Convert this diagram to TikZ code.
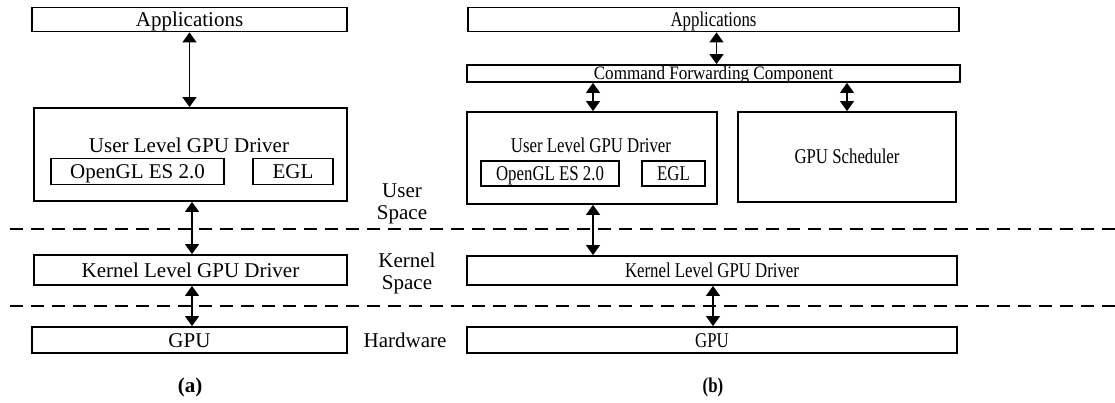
\documentclass[tikz,border=0pt]{standalone}
\usepackage{fontspec}
\setmainfont{Liberation Serif}
\usetikzlibrary{arrows.meta}
% narrower lettering used in the right-hand stack
\newcommand{\cond}[1]{\scalebox{0.8}[1]{#1}}
\tikzset{
  box/.style={draw, line width=1.8pt, inner sep=0pt, align=center,
    text height=14pt, text depth=0pt},
  txt/.style={inner sep=0pt, align=center, text height=14pt, text depth=0pt},
  twoline/.style={inner sep=0pt, align=center},
  link/.style={line width=1.2pt,
    {Triangle[width=14pt,length=10pt]}-{Triangle[width=14pt,length=10pt]}},
  divider/.style={line width=2pt, dash pattern=on 13pt off 8pt},
}
\begin{document}
\begin{tikzpicture}[x=1pt, y=-1pt, font=\fontsize{21}{22}\selectfont]
\useasboundingbox (0,0) rectangle (1115,403);

% ---- (a) native stack ----
\node[box, minimum width=315pt, minimum height=24pt] (appA) at (189.5,19.5) {Applications};
\node[box, minimum width=313pt, minimum height=93pt] (userA) at (190.5,154.5) {};
\node[txt] (userAt) at (189,145.5) {User Level GPU Driver};
\node[box, minimum width=173pt, minimum height=26pt] (oglA) at (137.5,171.5) {OpenGL ES 2.0};
\node[box, minimum width=80pt, minimum height=26pt] (eglA) at (293,171.5) {EGL};
\node[box, minimum width=313pt, minimum height=30pt] (kernA) at (190.5,270) {Kernel Level GPU Driver};
\node[box, minimum width=315pt, minimum height=26pt] (gpuA) at (189.5,340) {GPU};
\node[txt, font=\fontsize{21}{22}\selectfont\bfseries] (capA) at (190,385) {(a)};

\draw[link] (appA.south) -- (appA.south |- userA.north);
\draw[link] ([xshift=1.5pt]userA.south) -- ([xshift=1.5pt]userA.south |- kernA.north);
\draw[link] ([xshift=1.5pt]kernA.south) -- ([xshift=1.5pt]kernA.south |- gpuA.north);

% ---- layer labels ----
\node[twoline] (lblUser) at (402,203.5) {User\\Space};
\node[twoline] (lblKernel) at (407,273.5) {Kernel\\Space};
\node[txt] (lblHw) at (405,340) {Hardware};

\coordinate (d1l) at (10,229.5);
\coordinate (d1r) at (1115,229.5);
\coordinate (d2l) at (10,305.5);
\coordinate (d2r) at (1115,305.5);
\draw[divider] (d1l) -- (d1r);
\draw[divider] (d2l) -- (d2r);

% ---- (b) forwarded stack ----
\node[box, minimum width=491pt, minimum height=24pt] (appB) at (713.5,19.5) {\cond{Applications}};
\node[box, minimum width=493pt, minimum height=17pt, text height=12.6pt,
      font=\fontsize{19}{20}\selectfont] (cfc) at (713.5,73.5)
      {\scalebox{0.9}[1]{Command Forwarding Component}};
\node[box, minimum width=250pt, minimum height=92pt] (userB) at (592,158) {};
\node[txt] (userBt) at (591,146) {\cond{User Level GPU Driver}};
\node[box, minimum width=138pt, minimum height=25pt] (oglB) at (550,173.5) {\cond{OpenGL ES 2.0}};
\node[box, minimum width=63pt, minimum height=25pt] (eglB) at (673.5,173.5) {\cond{EGL}};
\node[box, minimum width=218pt, minimum height=90pt] (sched) at (847,157) {\cond{GPU Scheduler}};
\node[box, minimum width=490pt, minimum height=29pt] (kernB) at (712,270.5) {\cond{Kernel Level GPU Driver}};
\node[box, minimum width=490pt, minimum height=26pt] (gpuB) at (712,340) {\cond{GPU}};
\node[txt, font=\fontsize{21}{22}\selectfont\bfseries] (capB) at (713,385) {\cond{(b)}};

\draw[link] ([xshift=3pt]appB.south) -- ([xshift=3pt]appB.south |- cfc.north);
\draw[link] ([xshift=1pt]userB.north |- cfc.south) -- ([xshift=1pt]userB.north);
\draw[link] (sched.north |- cfc.south) -- (sched.north);
\draw[link] ([xshift=1pt]userB.south) -- ([xshift=1pt]userB.south |- kernB.north);
\draw[link] ([xshift=1pt]kernB.south) -- ([xshift=1pt]kernB.south |- gpuB.north);
\end{tikzpicture}
\end{document}
